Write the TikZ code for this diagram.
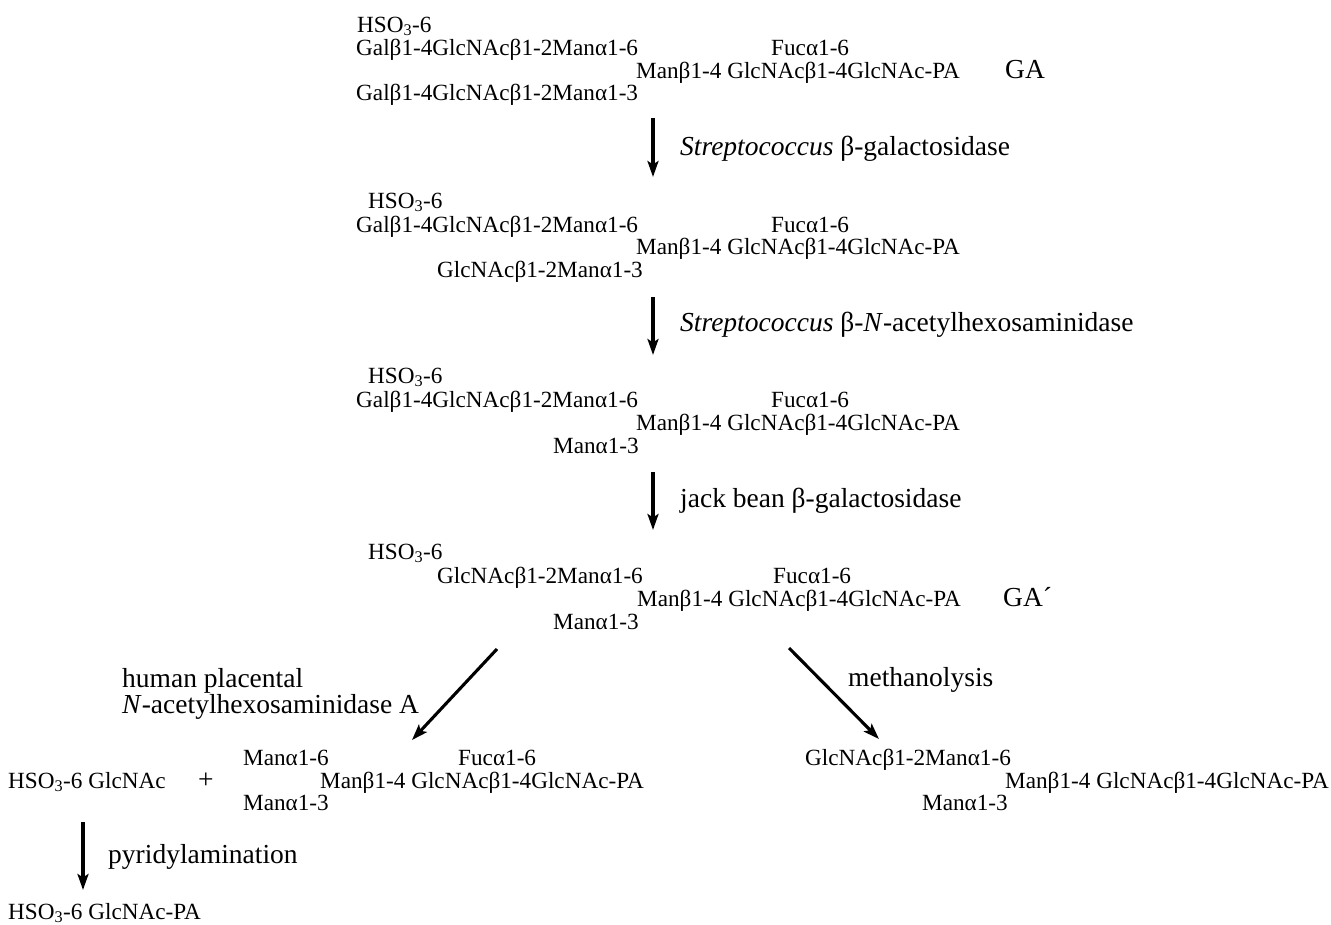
\documentclass[tikz,border=0pt]{standalone}
\usepackage{fontspec}
\setmainfont{Liberation Serif}
\usetikzlibrary{arrows.meta}
\begin{document}
\begin{tikzpicture}[x=1pt,y=-1pt,
  sm/.style={anchor=base west,inner sep=0pt,font=\fontsize{23.2}{23.2}\selectfont},
  lg/.style={anchor=base west,inner sep=0pt,font=\fontsize{27.5}{27.5}\selectfont},
  rx/.style={line width=3.1pt,-{Stealth[length=16pt,width=11pt,inset=3.5pt]}}]
\useasboundingbox (0,0) rectangle (1331,924);
% block 1 (GA)
\node[sm] (b1h) at (357,32) {HSO\textsubscript{3}-6};
\node[sm] (b1a) at (356,55) {Galβ1-4GlcNAcβ1-2Manα1-6};
\node[sm] (b1f) at (771,55) {Fucα1-6};
\node[sm] (b1m) at (636,78) {Manβ1-4 GlcNAcβ1-4GlcNAc-PA};
\node[lg] (b1g) at (1005,78) {GA};
\node[sm] (b1b) at (356,100) {Galβ1-4GlcNAcβ1-2Manα1-3};
% arrow 1
\coordinate (a1s) at (653,118);
\coordinate (a1e) at (653,177);
\draw[rx] (a1s) -- (a1e);
\node[lg] (l1) at (680,155) {\textit{Streptococcus} β-galactosidase};
% block 2
\node[sm] (b2h) at (368,208) {HSO\textsubscript{3}-6};
\node[sm] (b2a) at (356,232) {Galβ1-4GlcNAcβ1-2Manα1-6};
\node[sm] (b2f) at (771,232) {Fucα1-6};
\node[sm] (b2m) at (636,254) {Manβ1-4 GlcNAcβ1-4GlcNAc-PA};
\node[sm] (b2b) at (437,277) {GlcNAcβ1-2Manα1-3};
% arrow 2
\coordinate (a2s) at (653,297);
\coordinate (a2e) at (653,355);
\draw[rx] (a2s) -- (a2e);
\node[lg] (l2) at (680,331) {\textit{Streptococcus} β-\textit{N}-acetylhexosaminidase};
% block 3
\node[sm] (b3h) at (368,383) {HSO\textsubscript{3}-6};
\node[sm] (b3a) at (356,407) {Galβ1-4GlcNAcβ1-2Manα1-6};
\node[sm] (b3f) at (771,407) {Fucα1-6};
\node[sm] (b3m) at (636,430) {Manβ1-4 GlcNAcβ1-4GlcNAc-PA};
\node[sm] (b3b) at (553,453) {Manα1-3};
% arrow 3
\coordinate (a3s) at (653,472);
\coordinate (a3e) at (653,530);
\draw[rx] (a3s) -- (a3e);
\node[lg] (l3) at (680,507) {jack bean β-galactosidase};
% block 4 (GA')
\node[sm] (b4h) at (368,559) {HSO\textsubscript{3}-6};
\node[sm] (b4a) at (437,583) {GlcNAcβ1-2Manα1-6};
\node[sm] (b4f) at (773,583) {Fucα1-6};
\node[sm] (b4m) at (637,606) {Manβ1-4 GlcNAcβ1-4GlcNAc-PA};
\node[lg] (b4g) at (1003,606) {GA´};
\node[sm] (b4b) at (553,629) {Manα1-3};
% diagonal arrows
\coordinate (a4s) at (497,649);
\coordinate (a4e) at (412,740);
\draw[rx] (a4s) -- (a4e);
\coordinate (a5s) at (789,648);
\coordinate (a5e) at (879,739);
\draw[rx] (a5s) -- (a5e);
\node[lg] (l4a) at (122,687) {human placental};
\node[lg] (l4b) at (122,713) {\textit{N}-acetylhexosaminidase A};
\node[lg] (l5) at (848,686) {methanolysis};
% bottom left products
\node[sm] (p1) at (8,788) {HSO\textsubscript{3}-6 GlcNAc};
\node[lg] (plus) at (198,788) {+};
\node[sm] (p2a) at (243,765) {Manα1-6};
\node[sm] (p2f) at (458,765) {Fucα1-6};
\node[sm] (p2m) at (320,788) {Manβ1-4 GlcNAcβ1-4GlcNAc-PA};
\node[sm] (p2b) at (243,810) {Manα1-3};
% pyridylamination
\coordinate (a6s) at (83,822);
\coordinate (a6e) at (83,890);
\draw[rx] (a6s) -- (a6e);
\node[lg] (l6) at (108,863) {pyridylamination};
\node[sm] (p3) at (8,919) {HSO\textsubscript{3}-6 GlcNAc-PA};
% bottom right product
\node[sm] (r1a) at (805,765) {GlcNAcβ1-2Manα1-6};
\node[sm] (r1m) at (1005,788) {Manβ1-4 GlcNAcβ1-4GlcNAc-PA};
\node[sm] (r1b) at (922,810) {Manα1-3};
\end{tikzpicture}
\end{document}
